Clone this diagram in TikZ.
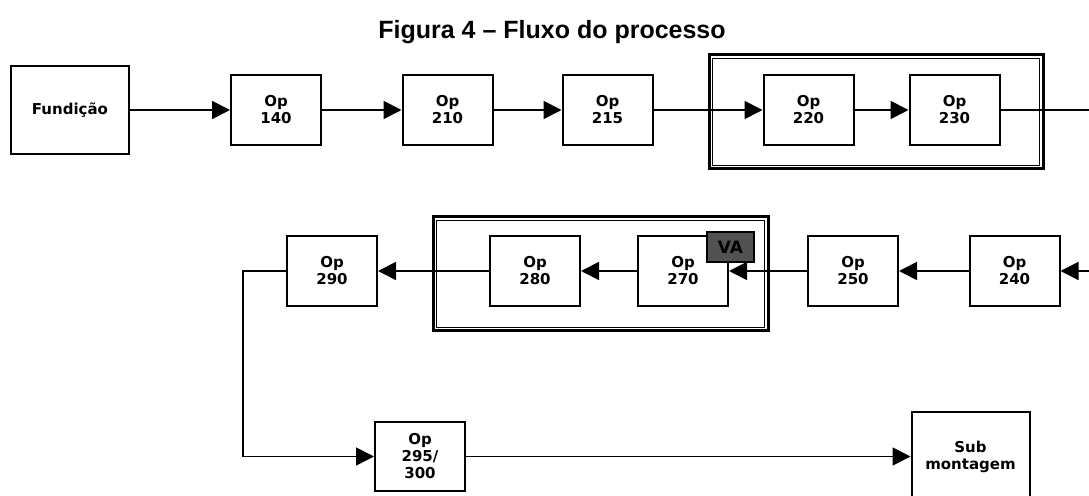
\documentclass[tikz,border=0pt]{standalone}
\usepackage{fontspec}
\setmainfont{Liberation Sans}
\newfontfamily\opfont{DejaVu Sans}
\usetikzlibrary{arrows.meta}

\begin{document}
\begin{tikzpicture}[x=1pt,y=1pt,
    opbox/.style={draw,line width=2pt,minimum width=90pt,minimum height=70pt,inner sep=0pt,
      align=center,font=\opfont\bfseries\fontsize{15}{17}\selectfont},
    bigbox/.style={opbox,minimum width=118pt,minimum height=88pt},
    flow/.style={line width=1.8pt,-{Triangle[length=18pt,width=18pt]}},
    plain/.style={line width=1.8pt},
    outerframe/.style={line width=3pt},
    innerframe/.style={line width=1.8pt},
    vabox/.style={draw,line width=1.8pt,fill=black!68,minimum width=47pt,minimum height=30pt,
      inner sep=0pt,font=\opfont\bfseries\fontsize{17}{17}\selectfont}]
      \useasboundingbox (0,0) rectangle (1089,495);
      \clip (0,0) rectangle (1089,495);
      \node (title) at (552,463) {\bfseries\fontsize{25}{30}\selectfont Figura 4 – Fluxo do processo};
      % frames round the grouped operations
      \draw [outerframe] (709,326) rectangle (1043,440);
      \draw [innerframe] (712.5,329.5) rectangle (1039.5,436.5);
      \draw [outerframe] (433,164) rectangle (768,278);
      \draw [innerframe] (436.5,167.5) rectangle (764.5,274.5);
      % first row
      \node [bigbox] (fund) at (70,385) {Fundição};
      \node [opbox] (op140) at (276,385) {Op\\140};
      \node [opbox] (op210) at (447.5,385) {Op\\210};
      \node [opbox] (op215) at (607.5,385) {Op\\215};
      \node [opbox] (op220) at (808.5,385) {Op\\220};
      \node [opbox] (op230) at (954.5,385) {Op\\230};
      \coordinate (out1) at (1089,385);
      % second row
      \coordinate (in2) at (1089,224);
      \node [opbox] (op240) at (1014.5,224) {Op\\240};
      \node [opbox] (op250) at (853,224) {Op\\250};
      \node [opbox] (op270) at (683,224) {Op\\270};
      \node [opbox] (op280) at (535,224) {Op\\280};
      \node [opbox] (op290) at (332,224) {Op\\290};
      \coordinate (bend) at (243,224);
      % third row
      \node [opbox,minimum height=69pt] (op295) at (420,38.5) {Op\\295/\\300};
      \node [bigbox] (sub) at (970.5,38.5) {Sub\\montagem};
      \draw [flow] (fund) -- (op140);
      \draw [flow] (op140) -- (op210);
      \draw [flow] (op210) -- (op215);
      \draw [flow] (op215) -- (op220);
      \draw [flow] (op220) -- (op230);
      \draw [plain] (op230) -- (out1);
      \draw [flow] (in2) -- (op240);
      \draw [flow] (op240) -- (op250);
      \draw [flow] (op250) -- (op270);
      \draw [flow] (op270) -- (op280);
      \draw [flow] (op280) -- (op290);
      \draw [flow] (op290) -- (bend) |- (op295);
      \draw [flow] (op295) -- (sub);
      \node [vabox] (va) at (730.5,248) {VA};
\end{tikzpicture}
\end{document}
